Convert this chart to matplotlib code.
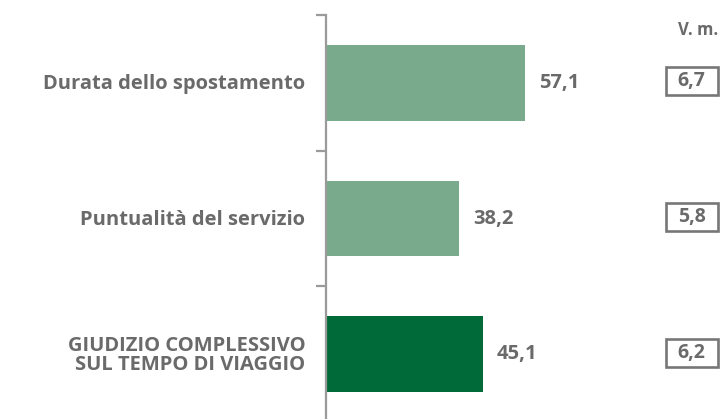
import matplotlib
matplotlib.use("Agg")
import matplotlib.pyplot as plt
import matplotlib.transforms as mtransforms
from matplotlib.patches import Rectangle

categories = ["Durata dello spostamento", "Puntualità del servizio",
              "GIUDIZIO COMPLESSIVO\nSUL TEMPO DI VIAGGIO"]
values = [57.1, 38.2, 45.1]
avg_votes = ["6,7", "5,8", "6,2"]
bar_colors = ["#79AA8B", "#79AA8B", "#006B38"]

GRAY = "#6a6a6a"
AXIS = "#9a9a9a"
plt.rcParams["font.family"] = ["Open Sans", "DejaVu Sans"]

fig = plt.figure(figsize=(7.2, 4.19), dpi=100)
ax = fig.add_axes([326 / 720, -3 / 419, 394 / 720, 407 / 419])

y = range(len(categories))
bars = ax.barh(list(y), values, height=0.56, color=bar_colors)
ax.set_ylim(2.5, -0.5)
ax.set_xlim(0, 394 / 3.485)

for s in ["top", "right", "bottom"]:
    ax.spines[s].set_visible(False)
ax.spines["left"].set_color(AXIS)
ax.spines["left"].set_linewidth(1.6)
ax.set_xticks([])
ax.set_yticks([-0.5, 0.5, 1.5])
ax.set_yticklabels([])
ax.tick_params(axis="y", length=7, width=1.6, color=AXIS, direction="out")

for i, cat in enumerate(categories):
    ax.annotate(cat, xy=(0, i), xytext=(-15, -1), textcoords="offset points",
                ha="right", va="center", fontsize=14.5, fontweight="bold",
                color=GRAY, linespacing=0.92)

for bar, val in zip(bars, values):
    ax.annotate(f"{val:.1f}".replace(".", ","),
                xy=(bar.get_width(), bar.get_y() + bar.get_height() / 2),
                xytext=(10, 0), textcoords="offset points",
                ha="left", va="center", fontsize=14.5, fontweight="bold", color=GRAY)

# riquadri del voto medio
trans = mtransforms.blended_transform_factory(ax.transAxes, ax.transData)
box_w, box_h, box_x = 52 / 394, 28 / 135.7, 0.928
for i, v in enumerate(avg_votes):
    ax.add_patch(Rectangle((box_x - box_w / 2, i - 0.01 - box_h / 2), box_w, box_h,
                           transform=trans, fc="white", ec="#777777", lw=1.9,
                           clip_on=False))
    ax.text(box_x, i - 0.01, v, transform=trans, ha="center", va="center",
            fontsize=14, fontweight="bold", color=GRAY)

fig.text(698 / 720, 1 - 30 / 419, "V. m.", ha="center", va="center",
         fontsize=12, fontweight="bold", color=GRAY)

fig.savefig("out.png", dpi=100)
